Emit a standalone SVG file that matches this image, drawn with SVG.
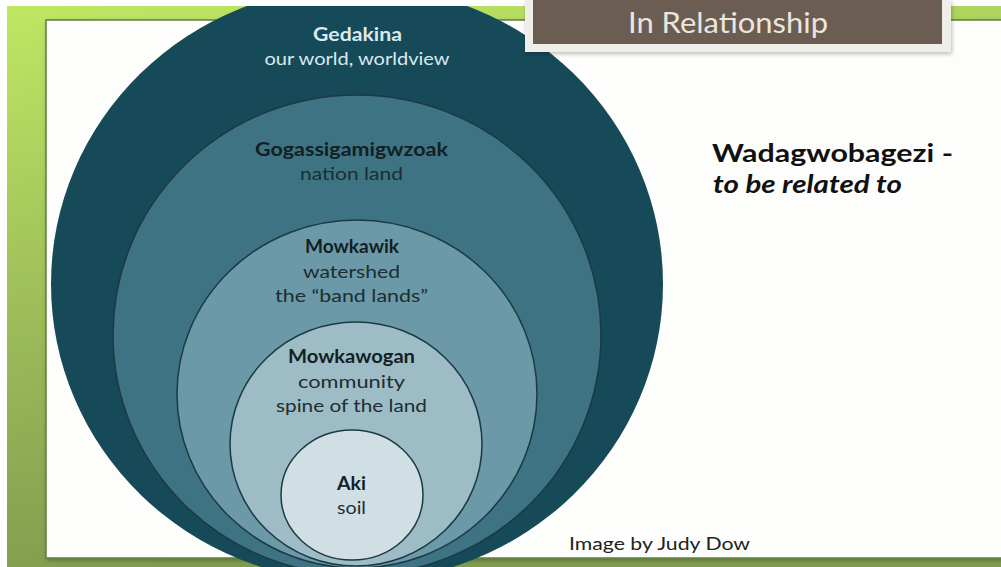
<svg xmlns="http://www.w3.org/2000/svg" width="1001" height="567" viewBox="0 0 1001 567">
<defs>
<linearGradient id="bg" x1="0" y1="0" x2="0.25" y2="1">
<stop offset="0" stop-color="#bfe863"/>
<stop offset="0.5" stop-color="#9ebf5a"/>
<stop offset="1" stop-color="#7f9c4e"/>
</linearGradient>
<filter id="sh" x="-5%" y="-20%" width="110%" height="150%">
<feDropShadow dx="1" dy="2" stdDeviation="2" flood-color="#000" flood-opacity="0.25"/>
</filter>
<style>
.t{font-family:Lato,"Open Sans",sans-serif;text-anchor:middle;font-size:18px;fill:#1c2d33}
.b{font-weight:bold;fill:#121f24}
.lt{fill:#d9e9ee}
.ring{stroke:#1b3a44;stroke-width:1.5}
</style>
</defs>
<rect x="0" y="0" width="1001" height="567" fill="url(#bg)"/>
<rect x="46" y="20" width="962" height="538" fill="#fdfdfb" stroke="#5f7d40" stroke-width="1.5" filter="url(#sh)"/>
<g id="gedakina">
<ellipse cx="357" cy="284" rx="306" ry="298" fill="#164a59"/>
<text class="t lt" x="357.5" y="41" style="font-weight:bold" textLength="89" lengthAdjust="spacingAndGlyphs">Gedakina</text>
<text class="t lt" x="357" y="65" textLength="185" lengthAdjust="spacingAndGlyphs">our world, worldview</text>
</g>
<g id="gogassigamigwzoak">
<ellipse class="ring" cx="357" cy="335" rx="244" ry="240" fill="#3e7383"/>
<text class="t b" x="351.5" y="156" textLength="193" lengthAdjust="spacingAndGlyphs">Gogassigamigwzoak</text>
<text class="t" x="351.5" y="180" textLength="103" lengthAdjust="spacingAndGlyphs">nation land</text>
</g>
<g id="mowkawik">
<ellipse class="ring" cx="357" cy="394" rx="180" ry="174" fill="#6b99a7"/>
<text class="t b" x="352" y="253" textLength="94" lengthAdjust="spacingAndGlyphs">Mowkawik</text>
<text class="t" x="351.5" y="278" textLength="97" lengthAdjust="spacingAndGlyphs">watershed</text>
<text class="t" x="351.5" y="302" textLength="153" lengthAdjust="spacingAndGlyphs">the “band lands”</text>
</g>
<g id="mowkawogan">
<ellipse class="ring" cx="356" cy="444" rx="126" ry="122" fill="#9ebcc6"/>
<text class="t b" x="351.5" y="363" textLength="127" lengthAdjust="spacingAndGlyphs">Mowkawogan</text>
<text class="t" x="351.5" y="388" textLength="107" lengthAdjust="spacingAndGlyphs">community</text>
<text class="t" x="351.5" y="412" textLength="151" lengthAdjust="spacingAndGlyphs">spine of the land</text>
</g>
<g id="aki">
<ellipse class="ring" cx="352" cy="495" rx="71" ry="65" fill="#cfdfe4"/>
<text class="t b" x="351.5" y="490" textLength="29" lengthAdjust="spacingAndGlyphs">Aki</text>
<text class="t" x="351.5" y="514" textLength="29" lengthAdjust="spacingAndGlyphs">soil</text>
</g>
<rect x="0" y="0" width="1001" height="6" fill="#ffffff"/>
<rect x="0" y="0" width="7" height="567" fill="#ffffff"/>
<g id="title">
<rect x="525" y="0" width="426" height="52" fill="#efeee8" filter="url(#sh)"/>
<rect x="533" y="0" width="409" height="44" fill="#6b5d51"/>
<text x="628" y="33" textLength="200" lengthAdjust="spacingAndGlyphs" style="font-family:Lato,'Open Sans',sans-serif;font-size:28px;fill:#ebe5df">In Relationship</text>
</g>
<g id="caption">
<text x="712" y="162" textLength="241" lengthAdjust="spacingAndGlyphs" style="font-family:Lato,'Open Sans',sans-serif;font-size:25px;font-weight:bold;fill:#111">Wadagwobagezi -</text>
<text x="713" y="193" textLength="189" lengthAdjust="spacingAndGlyphs" style="font-family:Lato,'Open Sans',sans-serif;font-size:25px;font-weight:bold;font-style:italic;fill:#111">to be related to</text>
</g>
<g id="credit">
<text x="569" y="550" textLength="181" lengthAdjust="spacingAndGlyphs" style="font-family:Lato,'Open Sans',sans-serif;font-size:18px;fill:#222">Image by Judy Dow</text>
</g>
<g id="connectors"/>
</svg>
